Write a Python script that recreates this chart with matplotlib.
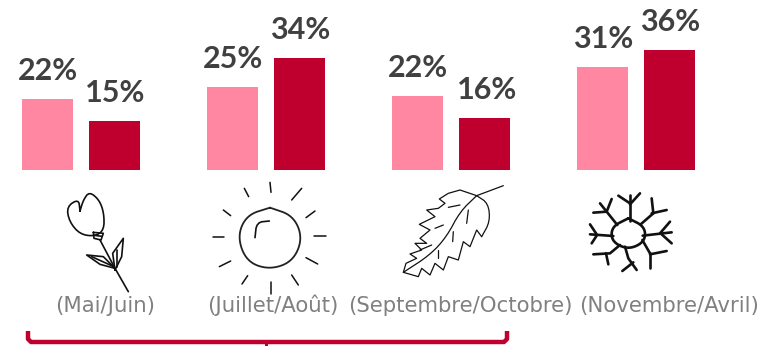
import matplotlib
matplotlib.use("Agg")
import matplotlib.pyplot as plt

# values (bar heights, labels are these rounded)
groupes = ["(Mai/Juin)", "(Juillet/Août)", "(Septembre/Octobre)", "(Novembre/Avril)"]
serie_claire = [21.5, 25.2, 22.3, 31.2]
serie_foncee = [14.9, 33.9, 15.8, 36.4]

ROSE = "#ff87a1"
ROUGE = "#bf002f"
GRIS_FONCE = "#404040"
GRIS = "#808080"

W, H = 759, 346
BASE = 170          # bars baseline, px from top
PX_PAR_POINT = 3.3

fig = plt.figure(figsize=(W / 100, H / 100), dpi=100)
fig.patch.set_facecolor("white")

# bars axes: x in px, y in %
ax = fig.add_axes([0, 1 - BASE / H, 1, BASE / H])
ax.set_xlim(0, W)
ax.set_ylim(0, BASE / PX_PAR_POINT)
ax.axis("off")

centres = [81, 266, 451, 636]
decalage = 33.5
largeur = 51.5

for i, c in enumerate(centres):
    for x, v, col in [(c - decalage, serie_claire[i], ROSE), (c + decalage, serie_foncee[i], ROUGE)]:
        ax.bar(x, v, width=largeur, color=col, linewidth=0)
        dx = 3 if round(v) == 16 else 0.5
        ax.annotate("{}%".format(round(v)), (x, v), xytext=(dx * 0.72, 19 * 0.72), textcoords="offset points",
                    ha="center", va="baseline", fontsize=22, fontweight="bold",
                    family="Lato", color=GRIS_FONCE, annotation_clip=False)

# overlay in image pixels, for the drawings and the bracket
deco = fig.add_axes([0, 0, 1, 1])
deco.set_xlim(0, W)
deco.set_ylim(H, 0)
deco.axis("off")
deco.patch.set_alpha(0)

for c, lab in zip([105.5, 273, 460.5, 669.5], groupes):
    deco.text(c, 312, lab, ha="center", va="baseline", fontsize=15.3, family="DejaVu Sans", color=GRIS)

# bracket
deco.plot([28, 28, 31, 504, 507, 507], [331, 339, 342, 342, 339, 331], color=ROUGE, lw=3.2,
          solid_joinstyle="round", solid_capstyle="butt")
deco.plot([266, 266], [342, 346], color=ROUGE, lw=2.2)


def lisse(points, n=2):
    # corner cutting, so the drawn outlines are not polygons
    for _ in range(n):
        out = [points[0]]
        for a, b in zip(points[:-1], points[1:]):
            out.append((0.75 * a[0] + 0.25 * b[0], 0.75 * a[1] + 0.25 * b[1]))
            out.append((0.25 * a[0] + 0.75 * b[0], 0.25 * a[1] + 0.75 * b[1]))
        out.append(points[-1])
        points = out
    return points


def trace(points, ox, oy, lw=1.0, color="#111111"):
    # points are in 3x zoom coordinates
    xs = [ox + p[0] / 3 for p in points]
    ys = [oy + p[1] / 3 for p in points]
    deco.plot(xs, ys, color=color, lw=lw, solid_capstyle="round", solid_joinstyle="round")


# tulip
trace(lisse([(240, 108), (236, 72), (200, 95), (208, 140), (240, 178), (285, 184), (312, 165), (312, 115),
             (298, 75), (268, 50), (250, 75), (240, 108)]), 0, 175, lw=1.2)
tulipe = [
    [(280, 172), (310, 175), (303, 195), (282, 190), (280, 172)],
    [(283, 181), (306, 184)],
    [(300, 195), (345, 280), (385, 350)],
    [(345, 285), (338, 235), (370, 190), (365, 245), (345, 285)],
    [(352, 275), (352, 225)],
    [(345, 280), (300, 268), (260, 240), (310, 245), (345, 280)],
    [(275, 245), (335, 272)],
]
for t in tulipe:
    trace(t, 0, 175, lw=1.2)

# sun
trace(lisse([(810, 98), (880, 122), (908, 190), (878, 260), (808, 284), (740, 260), (712, 185), (740, 120),
             (810, 98)], 3), 0, 175, lw=1.3, color="#222222")
trace(lisse([(765, 188), (770, 142), (808, 138)]), 0, 175, lw=1.2)
rayons = [
    [(810, 22), (813, 52)], [(733, 40), (746, 65)], [(905, 40), (875, 75)], [(670, 105), (692, 122)],
    [(945, 108), (918, 128)], [(640, 187), (673, 187)], [(943, 183), (977, 183)], [(658, 275), (692, 258)],
    [(918, 248), (953, 267)], [(743, 302), (726, 327)], [(875, 300), (895, 330)], [(812, 320), (812, 358)],
]
for r in rayons:
    trace(r, 0, 175, lw=1.1)

# leaf
feuille = [
    [(370, 32), (290, 62)],
    [(290, 62), (240, 45), (205, 55), (178, 72), (195, 85), (175, 100), (140, 105), (165, 125), (118, 148),
     (150, 165), (120, 190), (140, 205), (105, 205), (125, 225), (90, 237), (110, 250), (78, 265), (70, 292),
     (115, 305), (125, 280), (150, 300), (165, 265), (190, 285), (205, 245), (235, 255), (250, 200), (270, 215),
     (290, 165), (305, 185)],
    lisse([(305, 185), (330, 140), (325, 85), (290, 62)]),
    lisse([(290, 62), (240, 110), (200, 185), (150, 240), (70, 292)]),
    [(265, 105), (260, 145)], [(220, 170), (218, 200)], [(190, 150), (165, 160)], [(240, 90), (205, 97)],
    [(155, 210), (120, 225)], [(175, 225), (175, 250)],
]
for f in feuille:
    trace(f, 380, 175, lw=0.9)

# snowflake
trace(lisse([(745, 130), (795, 155), (795, 200), (745, 224), (695, 200), (695, 155), (745, 130)], 3), 380, 175, lw=1.9)
flocon = [
    [(750, 138), (750, 60)], [(715, 62), (750, 85)], [(780, 55), (750, 88)],
    [(782, 148), (820, 115)], [(815, 70), (820, 115)], [(860, 105), (815, 115)],
    [(788, 182), (875, 172)], [(870, 140), (840, 175)], [(875, 205), (845, 178)],
    [(787, 195), (810, 235)], [(860, 228), (810, 238)], [(810, 280), (810, 235)],
    [(735, 215), (745, 250), (770, 285)], [(727, 288), (760, 262)],
    [(720, 210), (690, 235), (640, 238)], [(685, 268), (678, 235)],
    [(700, 183), (630, 178)], [(630, 148), (650, 178)], [(635, 205), (650, 182)],
    [(712, 150), (680, 110), (640, 113)], [(695, 72), (680, 110)], [(660, 85), (680, 110)],
]
for f in flocon:
    trace(f, 380, 175, lw=1.9)

fig.savefig("out.png", dpi=100)
